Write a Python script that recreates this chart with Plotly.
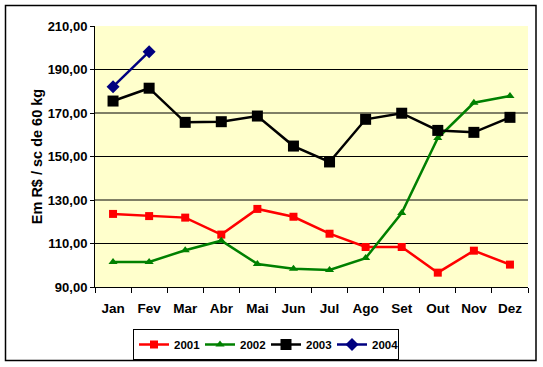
import plotly.graph_objects as go

months = ["Jan", "Fev", "Mar", "Abr", "Mai", "Jun", "Jul", "Ago", "Set", "Out", "Nov", "Dez"]
s2001 = [123.6, 122.6, 121.9, 114.1, 125.9, 122.3, 114.5, 108.4, 108.4, 96.6, 106.7, 100.3]
s2002 = [101.5, 101.5, 106.9, 111.3, 100.6, 98.4, 97.8, 103.3, 124.0, 158.5, 174.7, 177.8]
s2003 = [175.5, 181.4, 165.7, 166.0, 168.6, 154.8, 147.5, 167.1, 169.9, 162.0, 161.1, 168.0]
s2004 = [182.1, 198.2]
y_ticks = [90, 110, 130, 150, 170, 190, 210]
grid_vals = [110, 130, 150, 170, 190]

FONT = "Arial, Liberation Sans, sans-serif"

fig = go.Figure()
fig.add_trace(go.Scatter(x=months, y=s2001, name="2001", mode="lines+markers",
                         line=dict(color="#FF0000", width=2.5),
                         marker=dict(symbol="square", size=8, color="#FF0000")))
fig.add_trace(go.Scatter(x=months, y=s2002, name="2002", mode="lines+markers",
                         line=dict(color="#008000", width=2.5),
                         marker=dict(symbol="triangle-up", size=8, color="#008000")))
fig.add_trace(go.Scatter(x=months, y=s2003, name="2003", mode="lines+markers",
                         line=dict(color="#000000", width=2.5),
                         marker=dict(symbol="square", size=11, color="#000000")))
fig.add_trace(go.Scatter(x=months[:len(s2004)], y=s2004, name="2004", mode="lines+markers",
                         line=dict(color="#000080", width=2.5),
                         marker=dict(symbol="diamond", size=10, color="#000080")))

shapes = []
for g in grid_vals:
    shapes.append(dict(type="line", xref="paper", x0=0, x1=1, yref="y", y0=g, y1=g,
                       line=dict(color="black", width=1), layer="below"))
# outer chart border
shapes.append(dict(type="rect", xref="paper", yref="paper",
                   x0=(5.5 - 95) / 433, x1=(536 - 95) / 433,
                   y0=(287 - 360.5) / 261, y1=(287 - 5.5) / 261,
                   line=dict(color="black", width=1.5)))

fig.update_layout(
    width=543, height=367,
    margin=dict(l=95, r=15, t=26, b=80, autoexpand=False),
    paper_bgcolor="white",
    plot_bgcolor="#FFFFCC",
    separators=",.",
    font=dict(family=FONT, color="black"),
    shapes=shapes,
    showlegend=True,
    legend=dict(orientation="h", x=(266 - 95) / 433, xanchor="center",
                y=(287 - 329) / 261, yanchor="top",
                bordercolor="black", borderwidth=1, bgcolor="white",
                font=dict(family=FONT, size=11.5, color="black", weight="bold"),
                itemwidth=30, entrywidth=21, tracegroupgap=0),
    xaxis=dict(type="category", range=[-0.5, 11.5], showgrid=False,
               showline=True, linecolor="black", linewidth=1,
               ticks="outside", ticklen=5, tickcolor="black", tickson="boundaries",
               ticklabelstandoff=9,
               tickfont=dict(family=FONT, size=13.5, color="black", weight="bold")),
    yaxis=dict(range=[90, 210], tickvals=y_ticks, tickformat=".2f", showgrid=False,
               zeroline=False, showline=True, linecolor="black", linewidth=1,
               ticks="outside", ticklen=4, tickcolor="black",
               tickfont=dict(family=FONT, size=13, color="black", weight="bold"),
               title=dict(text="Em R$ / sc de 60 kg", standoff=1,
                          font=dict(family=FONT, size=14.5, color="black", weight="bold"))),
)

fig.write_html("out.html", config={"displayModeBar": False},
               post_script="document.body.style.margin='0';")
